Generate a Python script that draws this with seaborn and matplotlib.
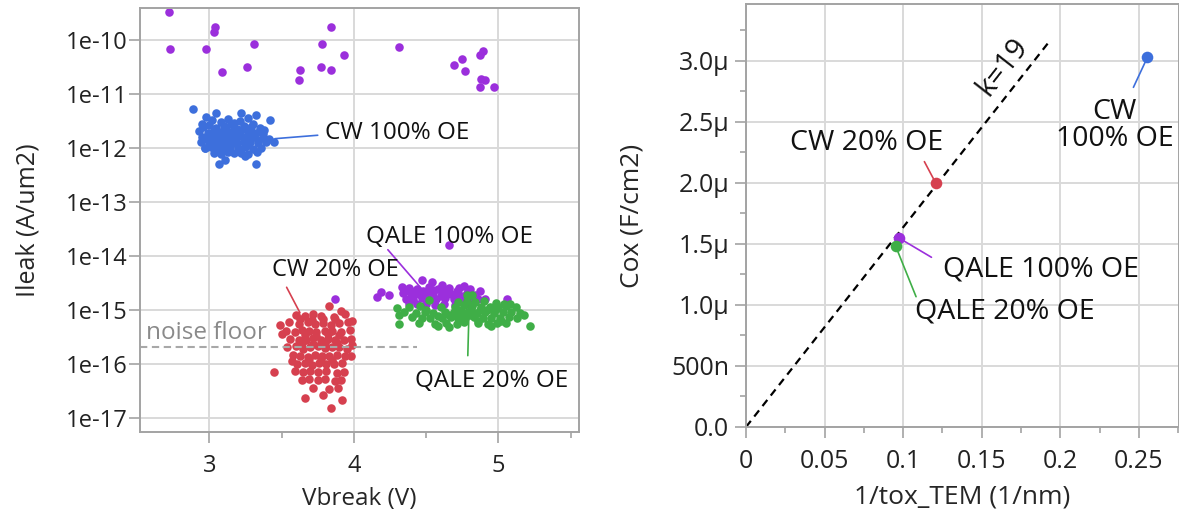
import matplotlib
matplotlib.use("Agg")
import matplotlib.pyplot as plt
import pandas as pd
import seaborn as sns

# ---------------- data: left panel (Vbreak in V, Ileak in A/um2) ----------------
cw100_v = [2.89, 3.05, 3.22, 3.32, 3.42, 2.98, 2.95, 3.38, 3.45, 2.97, 3.07, 3.32, 3.11, 3.25,
           3.02, 3.08, 3.13, 3.17, 3.21, 3.27, 3.30,
           2.96, 3.00, 3.05, 3.10, 3.15, 3.19, 3.24, 3.29, 3.35,
           2.93, 2.99, 3.03, 3.07, 3.12, 3.16, 3.21, 3.26, 3.32, 3.37,
           2.95, 2.98, 3.02, 3.06, 3.09, 3.13, 3.18, 3.22, 3.26, 3.31, 3.37, 3.41,
           2.94, 3.00, 3.04, 3.08, 3.11, 3.15, 3.19, 3.24, 3.28, 3.34, 3.39,
           2.97, 3.01, 3.06, 3.10, 3.14, 3.20, 3.25, 3.30, 3.36,
           3.03, 3.08, 3.13, 3.17, 3.22, 3.27, 3.33,
           3.04, 3.11, 3.17, 3.23, 3.28, 3.00, 3.07, 3.14, 3.20, 3.29,
           2.99, 3.09, 3.16, 3.24, 3.34, 3.05, 3.12, 3.19, 3.27]
cw100_i = [5.1e-12, 4.4e-12, 4.3e-12, 4.1e-12, 3.2e-12, 3.7e-12, 2.7e-12, 2.1e-12, 1.3e-12, 9.8e-13, 5.0e-13, 5.0e-13, 6.0e-13, 6.9e-13,
           3.3e-12, 3.0e-12, 3.4e-12, 2.9e-12, 3.1e-12, 3.5e-12, 2.8e-12,
           2.4e-12, 2.6e-12, 2.3e-12, 2.5e-12, 2.7e-12, 2.2e-12, 2.5e-12, 2.4e-12, 2.3e-12,
           2.0e-12, 1.9e-12, 2.1e-12, 1.95e-12, 2.05e-12, 1.85e-12, 2.0e-12, 2.1e-12, 1.9e-12, 1.8e-12,
           1.6e-12, 1.5e-12, 1.65e-12, 1.55e-12, 1.7e-12, 1.6e-12, 1.5e-12, 1.65e-12, 1.55e-12, 1.6e-12, 1.5e-12, 1.45e-12,
           1.25e-12, 1.3e-12, 1.2e-12, 1.3e-12, 1.25e-12, 1.35e-12, 1.2e-12, 1.28e-12, 1.3e-12, 1.2e-12, 1.25e-12,
           1.0e-12, 1.05e-12, 9.5e-13, 1.0e-12, 1.05e-12, 9.8e-13, 1.02e-12, 9.6e-13, 1.0e-12,
           8.0e-13, 7.7e-13, 8.2e-13, 7.9e-13, 8.1e-13, 7.6e-13, 8.3e-13,
           2.25e-12, 2.2e-12, 2.3e-12, 2.2e-12, 2.25e-12, 1.8e-12, 1.75e-12, 1.8e-12, 1.78e-12, 1.72e-12,
           1.4e-12, 1.42e-12, 1.38e-12, 1.4e-12, 1.36e-12, 1.12e-12, 1.1e-12, 1.15e-12, 1.12e-12]

cw20_v = [3.45, 3.66, 3.84, 3.79, 3.92, 3.99, 3.91, 3.83, 3.49, 3.50, 3.57, 3.87, 3.98, 3.99,
          3.60, 3.66, 3.72, 3.77, 3.86, 3.94,
          3.55, 3.62, 3.68, 3.73, 3.79, 3.84, 3.90, 3.96,
          3.53, 3.59, 3.64, 3.69, 3.74, 3.80, 3.85, 3.91, 3.97,
          3.56, 3.62, 3.67, 3.72, 3.77, 3.82, 3.87, 3.93, 3.98,
          3.54, 3.60, 3.65, 3.70, 3.75, 3.80, 3.85, 3.90, 3.95,
          3.58, 3.63, 3.68, 3.73, 3.78, 3.83, 3.88, 3.94,
          3.61, 3.66, 3.71, 3.76, 3.81, 3.86, 3.92,
          3.59, 3.65, 3.70, 3.75, 3.81, 3.88, 3.93,
          3.64, 3.69, 3.75, 3.80, 3.91,
          3.72, 3.83, 3.89,
          3.63, 3.71, 3.79, 3.87, 3.66, 3.74, 3.82, 3.90, 3.64, 3.72, 3.80, 3.88, 3.69, 3.77, 3.85]
cw20_i = [6.9e-17, 2.3e-17, 1.5e-17, 2.6e-17, 2.1e-17, 6.3e-16, 9.3e-16, 1.17e-15, 5.2e-16, 3.5e-16, 1.1e-16, 4.7e-17, 1.4e-16, 2.2e-16,
          8.0e-16, 7.5e-16, 8.5e-16, 7.8e-16, 7.2e-16, 8.2e-16,
          5.8e-16, 5.4e-16, 5.9e-16, 5.5e-16, 5.7e-16, 5.3e-16, 5.6e-16, 5.9e-16,
          4.1e-16, 3.9e-16, 4.2e-16, 4.0e-16, 3.8e-16, 4.1e-16, 4.0e-16, 3.9e-16, 4.2e-16,
          2.9e-16, 2.7e-16, 2.8e-16, 3.0e-16, 2.7e-16, 2.9e-16, 2.8e-16, 2.7e-16, 2.9e-16,
          2.0e-16, 2.1e-16, 1.9e-16, 2.0e-16, 2.1e-16, 1.95e-16, 2.0e-16, 2.05e-16, 1.9e-16,
          1.45e-16, 1.4e-16, 1.35e-16, 1.45e-16, 1.4e-16, 1.38e-16, 1.42e-16, 1.36e-16,
          1.0e-16, 1.05e-16, 9.6e-17, 1.02e-16, 9.8e-17, 1.0e-16, 1.04e-16,
          7.2e-17, 6.9e-17, 7.3e-17, 7.0e-17, 7.2e-17, 6.8e-17, 7.1e-17,
          5.0e-17, 5.2e-17, 4.9e-17, 5.1e-17, 5.0e-17,
          3.6e-17, 3.4e-17, 3.5e-17,
          6.7e-16, 6.5e-16, 6.8e-16, 6.6e-16, 3.4e-16, 3.3e-16, 3.5e-16, 3.4e-16, 2.4e-16, 2.35e-16, 2.45e-16, 2.4e-16, 1.2e-16, 1.22e-16, 1.18e-16]

qale100_v = [4.16, 4.19, 4.24, 4.33, 4.47, 4.54, 4.61, 4.76, 4.87, 4.91, 5.06, 4.66, 3.87,
             4.38, 4.44, 4.52, 4.58, 4.66, 4.73, 4.80,
             4.34, 4.39, 4.45, 4.50, 4.55, 4.61, 4.67, 4.72, 4.78, 4.84,
             4.36, 4.41, 4.47, 4.52, 4.57, 4.63, 4.69, 4.74, 4.80, 4.86,
             4.38, 4.44, 4.50, 4.56, 4.62, 4.70, 4.78,
             4.42, 4.48, 4.55, 4.64, 4.71, 4.40, 4.53, 4.60, 4.76, 4.83,
             # scattered high-leakage devices
             2.72, 2.73, 2.98, 3.04, 3.03, 3.09, 3.26, 3.31, 3.63, 3.62, 3.77, 3.84, 3.78,
             3.84, 3.93, 4.31, 4.69, 4.75, 4.77, 4.87, 4.89, 4.88, 4.91, 4.87, 4.97]
qale100_i = [1.7e-15, 2.1e-15, 1.9e-15, 2.6e-15, 3.5e-15, 3.2e-15, 2.9e-15, 2.8e-15, 2.2e-15, 1.55e-15, 1.55e-15, 1.55e-14, 1.6e-15,
             2.5e-15, 2.4e-15, 2.6e-15, 2.45e-15, 2.5e-15, 2.55e-15, 2.4e-15,
             2.0e-15, 2.1e-15, 1.95e-15, 2.05e-15, 2.0e-15, 2.1e-15, 1.95e-15, 2.0e-15, 2.05e-15, 1.9e-15,
             1.6e-15, 1.55e-15, 1.65e-15, 1.6e-15, 1.58e-15, 1.62e-15, 1.55e-15, 1.6e-15, 1.65e-15, 1.58e-15,
             1.28e-15, 1.25e-15, 1.3e-15, 1.22e-15, 1.27e-15, 1.24e-15, 1.3e-15,
             2.25e-15, 2.2e-15, 2.3e-15, 2.25e-15, 2.2e-15, 1.8e-15, 1.78e-15, 1.82e-15, 1.8e-15, 1.75e-15,
             3.26e-10, 6.7e-11, 6.6e-11, 1.69e-10, 1.36e-10, 2.48e-11, 3.1e-11, 8.2e-11, 2.7e-11, 1.76e-11, 3.07e-11, 2.7e-11, 8.4e-11,
             1.69e-10, 5.1e-11, 7.4e-11, 3.4e-11, 4.3e-11, 2.6e-11, 5.1e-11, 6.3e-11, 1.9e-11, 1.8e-11, 1.33e-11, 1.33e-11]

qale20_v = [4.31, 4.31, 4.30, 5.18, 5.22, 4.58, 4.66, 4.78, 4.82, 5.08, 4.95, 4.52,
            4.38, 4.46, 4.60, 4.70, 4.76, 4.82, 4.88, 4.94, 5.00, 5.05, 5.12,
            4.35, 4.43, 4.49, 4.55, 4.63, 4.69, 4.74, 4.79, 4.85, 4.91, 4.97, 5.03, 5.09, 5.15,
            4.40, 4.47, 4.53, 4.61, 4.67, 4.72, 4.77, 4.83, 4.89, 4.95, 5.01, 5.07, 5.13,
            4.45, 4.56, 4.64, 4.71, 4.76, 4.86, 4.93, 4.99, 5.05,
            4.72, 4.78, 4.84, 4.90, 4.98, 5.04,
            4.74, 4.81, 4.87, 4.92, 4.98, 4.50, 4.58, 4.66, 4.80, 4.86, 5.02]
qale20_i = [8.1e-16, 5.5e-16, 1.07e-15, 8.1e-16, 4.9e-16, 4.9e-16, 4.7e-16, 1.9e-15, 1.85e-15, 1.3e-15, 5.0e-16, 1.5e-15,
            1.1e-15, 1.15e-15, 1.12e-15, 1.1e-15, 1.2e-15, 1.15e-15, 1.1e-15, 1.13e-15, 1.1e-15, 1.16e-15, 1.1e-15,
            9.0e-16, 8.7e-16, 9.1e-16, 8.8e-16, 9.0e-16, 8.9e-16, 8.6e-16, 9.2e-16, 8.8e-16, 9.0e-16, 8.7e-16, 9.1e-16, 8.9e-16, 8.8e-16,
            7.2e-16, 7.0e-16, 7.1e-16, 6.9e-16, 7.2e-16, 7.0e-16, 7.1e-16, 7.3e-16, 6.9e-16, 7.1e-16, 7.0e-16, 7.2e-16, 7.0e-16,
            5.6e-16, 5.5e-16, 5.7e-16, 5.5e-16, 5.8e-16, 5.6e-16, 5.5e-16, 5.7e-16, 5.6e-16,
            1.4e-15, 1.45e-15, 1.38e-15, 1.42e-15, 1.35e-15, 1.3e-15,
            1.0e-15, 1.02e-15, 9.8e-16, 1.0e-15, 1.01e-15, 1.0e-15, 7.8e-16, 8.0e-16, 7.9e-16, 6.3e-16, 6.2e-16]

noise_floor = 2e-16
left_yticks = [1e-10, 1e-11, 1e-12, 1e-13, 1e-14, 1e-15, 1e-16, 1e-17]
left_ylabels = ["1e-10", "1e-11", "1e-12", "1e-13", "1e-14", "1e-15", "1e-16", "1e-17"]

# ---------------- data: right panel ----------------
groups = ["CW 100% OE", "CW 20% OE", "QALE 100% OE", "QALE 20% OE"]
inv_tox = [0.2554, 0.1207, 0.0972, 0.0953]
cox = [3.03e-6, 2.00e-6, 1.55e-6, 1.48e-6]
k_line_x = [0.0, 0.193]
k_line_y = [0.0, 3.16e-6]
right_yticks = [0, 0.5e-6, 1.0e-6, 1.5e-6, 2.0e-6, 2.5e-6, 3.0e-6]
right_ylabels = ["0.0", "500n", "1.0μ", "1.5μ", "2.0μ", "2.5μ", "3.0μ"]
right_xticks = [0, 0.05, 0.1, 0.15, 0.2, 0.25]
right_xlabels = ["0", "0.05", "0.1", "0.15", "0.2", "0.25"]

blue = "#3d6fdc"
red = "#d6404f"
purple = "#9b2fdc"
green = "#3fae47"
colors = [blue, red, purple, green]
gridc = "#d9d9d9"
spinec = "#a3a3a3"
txtc = "#111111"

sns.set_theme(style="whitegrid")
plt.rcParams['font.family'] = ['Open Sans', 'DejaVu Sans']

fig = plt.figure(figsize=(11.79, 5.17), dpi=100)
ax1 = fig.add_axes([140/1179, 1-432/517, 439/1179, 424/517])
ax2 = fig.add_axes([746/1179, 1-427/517, 433/1179, 423/517])

# ---- left panel ----
ms = 38
sns.scatterplot(x=cw100_v, y=cw100_i, color=blue, s=ms, linewidth=0, ax=ax1)
sns.scatterplot(x=cw20_v, y=cw20_i, color=red, s=ms, linewidth=0, ax=ax1)
sns.scatterplot(x=qale100_v, y=qale100_i, color=purple, s=ms, linewidth=0, ax=ax1)
sns.scatterplot(x=qale20_v, y=qale20_i, color=green, s=ms, linewidth=0, ax=ax1)
ax1.set_yscale("log")
ax1.set_xlim(2.521, 5.557)
ax1.set_ylim(10**-17.265, 10**-9.413)

ax1.plot([2.521, 4.435], [noise_floor, noise_floor], ls=(0, (3.5, 2.2)), color="#a8a8a8", lw=1.5)
ax1.text(2.563, noise_floor*1.12, "noise floor", color="#8a8a8a", fontsize=17.5, ha="left", va="bottom")

# labels with leader lines
ax1.plot([3.455, 3.75], [1.47e-12, 1.7e-12], color=blue, lw=1.2)
ax1.text(3.80, 1.85e-12, "CW 100% OE", fontsize=17.5, ha="left", va="center", color=txtc)
ax1.plot([3.535, 3.627], [2.6e-15, 8.8e-16], color=red, lw=1.2)
ax1.text(3.87, 5.5e-15, "CW 20% OE", fontsize=17, ha="center", va="center", color=txtc)
ax1.plot([4.235, 4.468], [1.29e-14, 2.45e-15], color=purple, lw=1.2)
ax1.text(4.66, 2.24e-14, "QALE 100% OE", fontsize=17.5, ha="center", va="center", color=txtc)
ax1.plot([4.795, 4.788], [7.1e-16, 1.41e-16], color=green, lw=1.2)
ax1.text(4.95, 4.7e-17, "QALE 20% OE", fontsize=17.5, ha="center", va="center", color=txtc)

ax1.set_yticks(left_yticks)
ax1.set_yticklabels(left_ylabels)
ax1.minorticks_off()
ax1.set_xticks([3, 4, 5])
ax1.set_xticklabels(["3", "4", "5"])
ax1.set_xticks([3.5, 4.5, 5.5], minor=True)
ax1.set_xlabel("Vbreak (V)", fontsize=17.5)
ax1.set_ylabel("Ileak (A/um2)", fontsize=18)
ax1.xaxis.set_label_coords(0.50, -0.158)
ax1.yaxis.set_label_coords(-0.255, 0.5)
ax1.xaxis.label.set_va("center")
ax1.yaxis.label.set_va("center")

# ---- right panel ----
ax2.plot(k_line_x, k_line_y, ls=(0, (3.5, 2.5)), color="black", lw=1.6)
for gx, gy, c in zip(inv_tox, cox, colors):
    sns.scatterplot(x=[gx], y=[gy], color=c, s=70, linewidth=0, ax=ax2, zorder=3)
ax2.set_xlim(0, 0.2755)
ax2.set_ylim(0, 3.467e-6)

ax2.text(0.163, 2.955e-6, "k=19", rotation=52, rotation_mode="anchor", fontsize=21,
         ha="center", va="center", color=txtc)
ax2.plot([inv_tox[0], 0.2465], [cox[0], 2.784e-6], color=blue, lw=1.2)
ax2.text(0.2347, 2.475e-6, "CW\n100% OE", fontsize=20.5, ha="center", va="center",
         linespacing=0.95, color=txtc)
ax2.plot([inv_tox[1], 0.1135], [cox[1], 2.175e-6], color=red, lw=1.2)
ax2.text(0.0765, 2.33e-6, "CW 20% OE", fontsize=20.5, ha="center", va="center", color=txtc)
ax2.plot([inv_tox[2], 0.118], [cox[2], 1.391e-6], color=purple, lw=1.2)
ax2.text(0.1875, 1.287e-6, "QALE 100% OE", fontsize=20.5, ha="center", va="center", color=txtc)
ax2.plot([inv_tox[3], 0.1082], [cox[3], 1.068e-6], color=green, lw=1.2)
ax2.text(0.1647, 0.945e-6, "QALE 20% OE", fontsize=20.5, ha="center", va="center", color=txtc)

ax2.set_yticks(right_yticks)
ax2.set_yticklabels(right_ylabels)
ax2.set_yticks([0.25e-6, 0.75e-6, 1.25e-6, 1.75e-6, 2.25e-6, 2.75e-6, 3.25e-6], minor=True)
ax2.set_xticks(right_xticks)
ax2.set_xticklabels(right_xlabels)
ax2.set_xticks([0.025, 0.075, 0.125, 0.175, 0.225, 0.275], minor=True)
ax2.set_xlabel("1/tox_TEM (1/nm)", fontsize=19)
ax2.set_ylabel("Cox (F/cm2)", fontsize=19)
ax2.xaxis.set_label_coords(0.50, -0.165)
ax2.yaxis.set_label_coords(-0.263, 0.5)
ax2.xaxis.label.set_va("center")
ax2.yaxis.label.set_va("center")

for ax in (ax1, ax2):
    ax.grid(True, which="major", color=gridc, lw=1.4)
    ax.grid(False, which="minor")
    ax.set_axisbelow(True)
    for sp in ax.spines.values():
        sp.set_color(spinec)
        sp.set_linewidth(1.4)
    ax.tick_params(which="both", bottom=True, left=True, direction="out", color=spinec, width=1.2)
    ax.tick_params(which="major", length=8, labelcolor="#222222")
    ax.tick_params(which="minor", length=4.5)
    ax.tick_params(axis="x", which="major", pad=7.5)
ax1.tick_params(which="major", labelsize=17)
ax1.tick_params(axis="y", which="major", pad=1)
ax2.tick_params(which="major", labelsize=18)
ax2.tick_params(axis="y", which="major", pad=4)

fig.savefig("out.png", dpi=100)
